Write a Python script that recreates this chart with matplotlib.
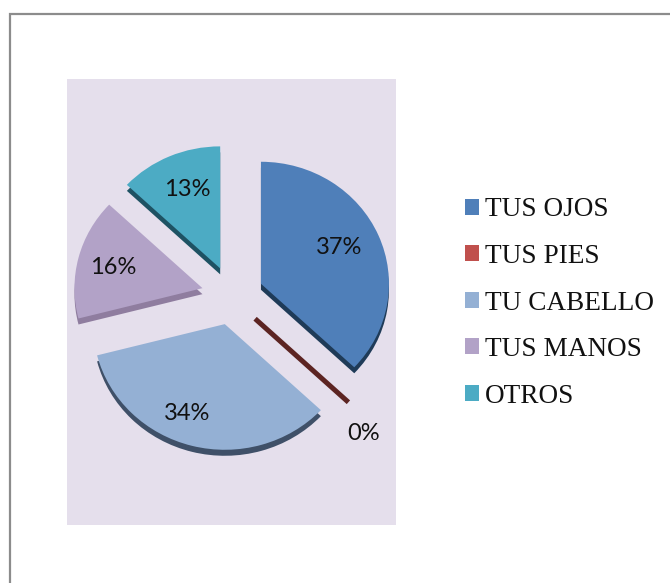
import matplotlib

matplotlib.use("Agg")
import matplotlib.pyplot as plt
from matplotlib.lines import Line2D

categories = ["TUS OJOS", "TUS PIES", "TU CABELLO", "TUS MANOS", "OTROS"]
values = [37, 0, 34, 16, 13]
top_colors = ["#4f7fb9", "#c0504d", "#94b0d4", "#b2a2c7", "#4cabc4"]
side_colors = ["#1f3b58", "#5c2422", "#3f5068", "#8f7d9f", "#1e5263"]

W, H = 670, 583
PANEL = (67, 79, 396, 525)
CENTER = (232.5, 295.5)
RADIUS = 128
Y_RADIUS = 122  # pie is tilted a bit, so squashed vertically
EXPLODE = 31 / RADIUS
DEPTH = 6 / Y_RADIUS
# label centres in pixels, they don't follow one pct distance
LABEL_PX = [(339, 245), (364, 432), (187, 411), (113, 265), (187, 187)]

fig = plt.figure(figsize=(W / 100, H / 100), dpi=100, facecolor="white")

# axes is the lilac panel, 1 data unit = pie radius
ax = fig.add_axes(
    [
        PANEL[0] / W,
        1 - PANEL[3] / H,
        (PANEL[2] - PANEL[0]) / W,
        (PANEL[3] - PANEL[1]) / H,
    ]
)

explode = [EXPLODE] * len(values)
side_wedges, _ = ax.pie(
    values,
    explode=explode,
    colors=side_colors,
    startangle=90,
    counterclock=False,
    center=(0, -DEPTH),
    wedgeprops={"linewidth": 0},
)
# the 0 % slice only shows as a thick dark band
side_wedges[1].set(
    center=(side_wedges[1].center[0], side_wedges[1].center[1] + DEPTH / 2),
    edgecolor=side_colors[1],
    linewidth=3.6,
)
wedges, _, autotexts = ax.pie(
    values,
    explode=explode,
    colors=top_colors,
    startangle=90,
    counterclock=False,
    autopct="%1.0f%%",
    wedgeprops={"linewidth": 0},
    textprops={"family": "Lato", "fontsize": 17, "color": "#111111"},
)
wedges[1].set_visible(False)

# front slice looks a bit bigger because of the perspective
side_wedges[2].set_radius(1.03)
wedges[2].set_radius(1.03)

for text, (px, py) in zip(autotexts, LABEL_PX):
    text.set_position(((px - CENTER[0]) / RADIUS, (CENTER[1] - py - 2) / Y_RADIUS))

ax.set_aspect("auto")
ax.set_frame_on(True)
for spine in ax.spines.values():
    spine.set_visible(False)
ax.set_facecolor("#e5dfec")
ax.set_xlim((PANEL[0] - CENTER[0]) / RADIUS, (PANEL[2] - CENTER[0]) / RADIUS)
ax.set_ylim((CENTER[1] - PANEL[3]) / Y_RADIUS, (CENTER[1] - PANEL[1]) / Y_RADIUS)

handles = [
    plt.Rectangle((0, 0), 1, 1, facecolor=c, edgecolor="none") for c in top_colors
]
fig.legend(
    handles,
    categories,
    loc="center left",
    bbox_to_anchor=(465 / W, 1 - 303 / H),
    frameon=False,
    prop={"family": "Liberation Serif", "size": 19.6},
    handlelength=0.52,
    handleheight=0.52,
    handletextpad=0.22,
    labelspacing=0.79,
    borderpad=0,
    borderaxespad=0,
    labelcolor="#111111",
)

# chart border, only left and top fall inside the crop
fig.add_artist(
    Line2D(
        [10 / W, 10 / W, 1],
        [0, 1 - 14 / H, 1 - 14 / H],
        color="#8c8c8c",
        linewidth=1.6,
        solid_joinstyle="miter",
    )
)

fig.savefig("out.png", dpi=100)
